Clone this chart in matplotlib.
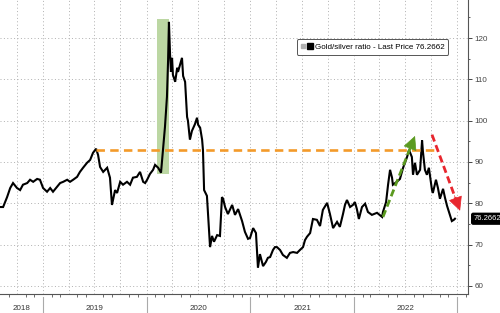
import matplotlib
matplotlib.use("Agg")
import matplotlib.pyplot as plt
import matplotlib.dates as mdates
from matplotlib.lines import Line2D
from matplotlib.legend_handler import HandlerTuple
import pandas as pd

# gold/silver ratio
dates = [
    "2018-08-02", "2018-08-13", "2018-08-27", "2018-09-07", "2018-09-17", "2018-10-01",
    "2018-10-12", "2018-10-22", "2018-11-06", "2018-11-16", "2018-11-27", "2018-12-11",
    "2018-12-21", "2019-01-01", "2019-01-15", "2019-01-26", "2019-02-05", "2019-02-19",
    "2019-03-02", "2019-03-13", "2019-03-27", "2019-04-06", "2019-04-17", "2019-05-01",
    "2019-05-11", "2019-05-22", "2019-06-05", "2019-06-16", "2019-06-26", "2019-07-07",
    "2019-07-14", "2019-07-21", "2019-08-01", "2019-08-15", "2019-08-25", "2019-09-01",
    "2019-09-12", "2019-09-19", "2019-09-30", "2019-10-10", "2019-10-24", "2019-11-04",
    "2019-11-14", "2019-11-28", "2019-12-09", "2019-12-20", "2019-12-27", "2020-01-03",
    "2020-01-13", "2020-01-24", "2020-01-31", "2020-02-11", "2020-02-21", "2020-02-28",
    "2020-03-06", "2020-03-13", "2020-03-17", "2020-03-20", "2020-03-24", "2020-03-27",
    "2020-03-31", "2020-04-03", "2020-04-11", "2020-04-18", "2020-04-21", "2020-04-28",
    "2020-05-05", "2020-05-09", "2020-05-16", "2020-05-23", "2020-05-26", "2020-06-02",
    "2020-06-09", "2020-06-20", "2020-06-27", "2020-07-01", "2020-07-08", "2020-07-15",
    "2020-07-18", "2020-07-22", "2020-08-01", "2020-08-05", "2020-08-12", "2020-08-19",
    "2020-08-26", "2020-09-06", "2020-09-16", "2020-09-23", "2020-09-27", "2020-10-04",
    "2020-10-14", "2020-10-29", "2020-11-08", "2020-11-19", "2020-12-03", "2020-12-13",
    "2020-12-24", "2020-12-31", "2021-01-11", "2021-01-21", "2021-01-28", "2021-02-04",
    "2021-02-15", "2021-02-25", "2021-03-04", "2021-03-12", "2021-03-22", "2021-03-29",
    "2021-04-05", "2021-04-16", "2021-04-26", "2021-05-10", "2021-05-21", "2021-06-01",
    "2021-06-15", "2021-06-25", "2021-07-06", "2021-07-13", "2021-07-20", "2021-07-31",
    "2021-08-10", "2021-08-24", "2021-09-04", "2021-09-14", "2021-09-29", "2021-10-09",
    "2021-10-20", "2021-11-03", "2021-11-13", "2021-11-24", "2021-12-01", "2021-12-08",
    "2021-12-19", "2021-12-29", "2022-01-05", "2022-01-12", "2022-01-19", "2022-01-30",
    "2022-02-10", "2022-02-20", "2022-03-06", "2022-03-24", "2022-04-11", "2022-04-14",
    "2022-04-25", "2022-05-02", "2022-05-09", "2022-05-16", "2022-05-19", "2022-06-02",
    "2022-06-13", "2022-06-24", "2022-07-08", "2022-07-15", "2022-07-25", "2022-07-29",
    "2022-08-05", "2022-08-12", "2022-08-23", "2022-08-30", "2022-09-02", "2022-09-09",
    "2022-09-16", "2022-09-23", "2022-10-04", "2022-10-07", "2022-10-18", "2022-10-25",
    "2022-11-01", "2022-11-12", "2022-11-19", "2022-11-26", "2022-12-03", "2022-12-13",
    "2022-12-20", "2022-12-24",
]
ratio = [
    79.1, 79.1, 81.5, 83.7, 84.9, 83.7,
    83.2, 84.5, 84.9, 85.7, 85.2, 85.9,
    85.7, 83.7, 82.8, 83.7, 82.8, 84.0,
    84.9, 85.2, 85.7, 85.2, 85.7, 86.4,
    87.6, 88.6, 89.8, 90.5, 92.2, 93.2,
    91.7, 88.8, 87.6, 88.6, 86.2, 79.6,
    83.2, 82.5, 85.2, 84.5, 85.2, 84.5,
    86.2, 86.4, 87.6, 85.2, 84.9, 85.7,
    87.1, 88.1, 89.3, 88.6, 87.4, 92.9,
    98.5, 105.8, 114.7, 123.9, 115.9, 111.8,
    115.2, 111.1, 109.4, 112.8, 111.8, 113.5,
    115.2, 110.8, 109.4, 100.9, 100.0, 95.4,
    97.5, 99.2, 100.7, 99.0, 98.3, 95.4,
    92.9, 83.2, 81.8, 77.2, 69.4, 72.1,
    70.7, 72.3, 72.1, 81.5, 81.1, 79.1,
    77.4, 79.6, 77.2, 78.6, 75.7, 73.1,
    71.4, 71.6, 74.0, 72.8, 64.4, 67.7,
    64.8, 65.8, 66.8, 67.0, 68.7, 69.4,
    69.4, 68.7, 67.5, 66.8, 68.0, 68.2,
    68.0, 68.7, 69.4, 71.1, 71.9, 72.8,
    76.2, 76.0, 74.5, 78.4, 80.1, 77.4,
    74.0, 75.5, 74.3, 77.4, 79.6, 80.8,
    79.1, 79.6, 80.3, 78.6, 76.2, 79.1,
    79.9, 77.9, 77.2, 77.7, 76.7, 77.9,
    80.3, 84.5, 88.1, 86.2, 84.5, 85.2,
    85.9, 88.6, 91.2, 92.9, 91.2, 86.9,
    89.8, 86.9, 88.1, 95.2, 92.5, 88.1,
    86.9, 88.6, 83.2, 82.5, 85.7, 83.7,
    81.1, 83.5, 81.3, 79.4, 77.9, 75.7,
    76.0, 76.2662,
]
last_price = 76.2662

years = ["2018", "2019", "2020", "2021", "2022"]
yticks = [60, 70, 80, 90, 100, 110, 120]

# annotations drawn on top of the chart
covid_span = ("2020-02-07", "2020-03-20", 87.1, 124.6)
prior_high = ("2019-07-07", "2022-10-22", 92.9)
green_arrow = (("2022-04-14", 76.7), ("2022-08-05", 96.3))
red_arrow = (("2022-10-04", 96.6), ("2023-01-11", 78.2))

plt.rcParams["font.family"] = ["Liberation Sans", "DejaVu Sans"]

d = pd.to_datetime(dates)
fig = plt.figure(figsize=(5.0, 3.13), dpi=100)
ax = fig.add_axes([0.0, 0.0607, 0.936, 0.9393])

ax.set_xlim(pd.Timestamp("2018-08-02"), pd.Timestamp("2023-02-08"))
ax.set_ylim(58.05, 129.2)

# green shaded box round the 2020 spike
ax.fill_between(pd.to_datetime(list(covid_span[:2])), covid_span[2], covid_span[3],
                color="#bcd7a3", lw=0, zorder=1)

ax.plot(d, ratio, color="black", lw=1.5, zorder=3, solid_joinstyle="miter")

# orange dashed line at the 2019 high
ax.plot(pd.to_datetime(list(prior_high[:2])), [prior_high[2]] * 2,
        color="#f39a2a", lw=1.9, dashes=(3.2, 2.0), zorder=4)


def dashed_arrow(start, end, color):
    x0, y0 = mdates.date2num(pd.Timestamp(start[0])), start[1]
    x1, y1 = mdates.date2num(pd.Timestamp(end[0])), end[1]
    # line stops a bit short of the tip so the head sits on it
    xs = x0 + (x1 - x0) * 0.86
    ys = y0 + (y1 - y0) * 0.86
    ax.plot([x0, xs], [y0, ys], color=color, lw=2.0, dashes=(2.6, 1.4),
            zorder=5, solid_capstyle="butt", dash_capstyle="butt")
    xh = x0 + (x1 - x0) * 0.8
    yh = y0 + (y1 - y0) * 0.8
    ax.annotate("", xy=(x1, y1), xytext=(xh, yh),
                arrowprops=dict(arrowstyle="-|>,head_length=0.9,head_width=0.45",
                                color=color, lw=0.5, shrinkA=0, shrinkB=0),
                zorder=5)


dashed_arrow(*green_arrow, "#5b9a20")
dashed_arrow(*red_arrow, "#e8262e")

# grid
ax.xaxis.set_major_locator(mdates.MonthLocator(bymonth=[1, 4, 7, 10]))
ax.xaxis.set_minor_locator(mdates.MonthLocator())
ax.set_yticks(yticks)
ax.yaxis.set_minor_locator(matplotlib.ticker.MultipleLocator(5))
ax.grid(True, which="major", color="#b0b0b0", lw=0.7, ls=(0, (1, 2.5)))
ax.set_axisbelow(True)

ax.yaxis.tick_right()
ax.tick_params(axis="y", which="major", direction="out", length=3, width=0.7,
               colors="#444444", labelsize=5.8, pad=1.5)
ax.tick_params(axis="y", which="minor", direction="out", length=1.5, width=0.6,
               colors="#444444")
ax.tick_params(axis="x", which="major", length=0, labelbottom=False)
ax.tick_params(axis="x", which="minor", direction="out", length=2.2, width=0.6,
               colors="#555555")

for side in ["top", "left"]:
    ax.spines[side].set_visible(False)
for side in ["bottom", "right"]:
    ax.spines[side].set_color("#555555")
    ax.spines[side].set_linewidth(0.8)

# year labels and separators below the axis
xmin, xmax = ax.get_xlim()
trans = ax.get_xaxis_transform()
for i, y in enumerate(years):
    start = mdates.date2num(pd.Timestamp(y + "-01-01"))
    end = mdates.date2num(pd.Timestamp(str(int(y) + 1) + "-01-01"))
    left = max(start, xmin)
    ax.text((left + end) / 2, -0.048, y, transform=trans, ha="center", va="center",
            fontsize=5.8, color="#333333")
    ax.plot([end, end], [-0.01, -0.08], transform=trans, color="#aaaaaa",
            lw=0.8, clip_on=False)

# last price tag
ax.text(1.012, last_price, f"{last_price:.4f}", transform=ax.get_yaxis_transform(),
        ha="left", va="center", fontsize=5.5, color="white",
        bbox=dict(boxstyle="round,pad=0.25,rounding_size=0.2", fc="black", ec="black"))

# legend
h_small = Line2D([], [], ls="none", marker="s", ms=2.6, mfc="#b0b0b0", mec="#b0b0b0")
h_big = Line2D([], [], ls="none", marker="s", ms=4.4, mfc="black", mec="black")
leg = ax.legend([(h_small, h_big)], [f"Gold/silver ratio - Last Price {last_price:.4f}"],
                handler_map={tuple: HandlerTuple(ndivide=None, pad=0.1)},
                loc="upper right", bbox_to_anchor=(0.958, 0.866), fontsize=5.8,
                frameon=True, fancybox=True, handlelength=1.4, handletextpad=0.3,
                borderpad=0.5, borderaxespad=0)
leg.get_frame().set_edgecolor("#555555")
leg.get_frame().set_linewidth(0.7)
leg.get_frame().set_alpha(1)
leg.set_zorder(6)

fig.savefig("out.png", dpi=100)
